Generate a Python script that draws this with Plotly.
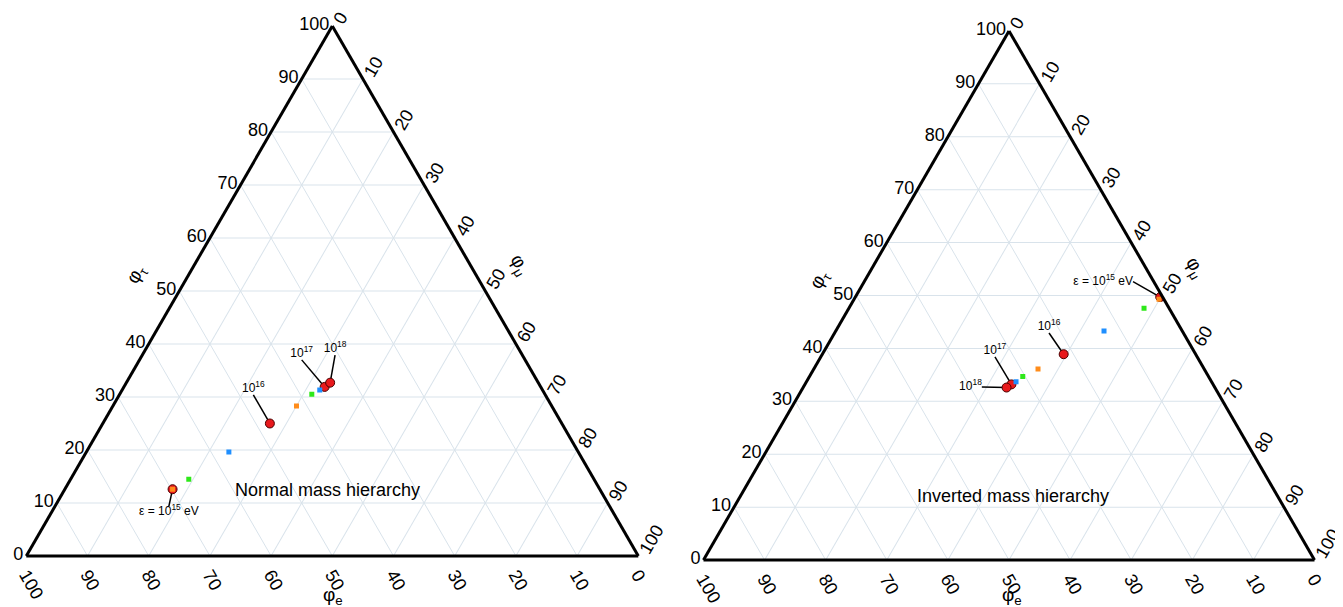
import plotly.graph_objects as go

# ternary coordinates: a = phi_tau, b = phi_e, c = phi_mu (percent)
energy_labels = ["ε = 10<sup>15</sup> eV", "10<sup>16</sup>", "10<sup>17</sup>", "10<sup>18</sup>"]

# normal mass hierarchy
nh_tau = [12.6, 25.0, 31.9, 32.7]
nh_e = [69.8, 47.7, 35.3, 34.0]
nh_mu = [17.6, 27.3, 32.8, 33.3]
nh_orange_tau, nh_orange_e, nh_orange_mu = [12.6, 28.3], [69.8, 41.7], [17.6, 30.0]
nh_green_tau, nh_green_e, nh_green_mu = [14.5, 30.5], [66.2, 38.1], [19.3, 31.4]
nh_blue_tau, nh_blue_e, nh_blue_mu = [19.6, 31.3], [57.1, 36.4], [23.3, 32.3]
# where the label leader lines end
nh_lab_tau = [9.4, 30.4, 37.0, 37.9]
nh_lab_e = [72.0, 47.7, 36.5, 30.6]
nh_lab_mu = [18.6, 21.9, 26.5, 31.5]
nh_lab_pos = ["bottom center", "top center", "top center", "top center"]

# inverted mass hierarchy
ih_tau = [49.7, 38.9, 33.2, 32.6]
ih_e = [0.4, 21.6, 33.0, 34.1]
ih_mu = [49.9, 39.5, 33.8, 33.3]
ih_orange_tau, ih_orange_e, ih_orange_mu = [49.3, 36.1], [0.8, 27.2], [49.9, 36.7]
ih_green_tau, ih_green_e, ih_green_mu = [47.6, 34.7], [4.1, 30.4], [48.3, 34.9]
ih_blue_tau, ih_blue_e, ih_blue_mu = [43.3, 33.7], [12.8, 32.0], [43.9, 34.3]
ih_lab_tau = [52.6, 42.9, 38.4, 32.7]
ih_lab_e = [3.4, 22.0, 33.1, 38.1]
ih_lab_mu = [44.0, 35.1, 28.5, 29.2]
ih_lab_pos = ["middle left", "top center", "top center", "middle left"]

FONT = "Liberation Sans, Arial, sans-serif"
GRID = "#d9e3eb"


def leader(tau, e, mu, lt, le, lm):
    a, b, c = [], [], []
    for i in range(len(tau)):
        a += [tau[i], lt[i], None]
        b += [e[i], le[i], None]
        c += [mu[i], lm[i], None]
    return a, b, c


fig = go.Figure()

panels = [
    ("ternary", nh_tau, nh_e, nh_mu, nh_lab_tau, nh_lab_e, nh_lab_mu, nh_lab_pos,
     [(nh_orange_tau, nh_orange_e, nh_orange_mu, "#ff8c1a"),
      (nh_green_tau, nh_green_e, nh_green_mu, "#2ee81a"),
      (nh_blue_tau, nh_blue_e, nh_blue_mu, "#1f8fff")]),
    ("ternary2", ih_tau, ih_e, ih_mu, ih_lab_tau, ih_lab_e, ih_lab_mu, ih_lab_pos,
     [(ih_orange_tau, ih_orange_e, ih_orange_mu, "#ff8c1a"),
      (ih_green_tau, ih_green_e, ih_green_mu, "#2ee81a"),
      (ih_blue_tau, ih_blue_e, ih_blue_mu, "#1f8fff")]),
]

for sub, tau, e, mu, lt, le, lm, lpos, squares in panels:
    la, lb, lc = leader(tau, e, mu, lt, le, lm)
    fig.add_trace(go.Scatterternary(
        a=la, b=lb, c=lc, mode="lines", subplot=sub,
        line=dict(color="black", width=1.5), hoverinfo="skip"))
    fig.add_trace(go.Scatterternary(
        a=tau, b=e, c=mu, mode="markers", subplot=sub,
        marker=dict(symbol="circle", size=9, color="#e8191c",
                    line=dict(color="#4a0000", width=1))))
    for st, se, sm, col in squares:
        fig.add_trace(go.Scatterternary(
            a=st, b=se, c=sm, mode="markers", subplot=sub,
            marker=dict(symbol="square", size=5, color=col, line=dict(width=0))))
    fig.add_trace(go.Scatterternary(
        a=lt, b=le, c=lm, mode="text", subplot=sub,
        text=energy_labels, textposition=lpos,
        textfont=dict(family=FONT, size=12, color="black"), hoverinfo="skip"))


def axis(angle):
    return dict(title=dict(text=""), min=0, tick0=0, dtick=10, ticks="",
                tickangle=angle, tickfont=dict(family=FONT, size=18, color="black"),
                showgrid=True, gridcolor=GRID, gridwidth=1,
                showline=True, linecolor="black", linewidth=3)


tern = dict(sum=100, bgcolor="white",
            aaxis=axis(0), baxis=axis(60), caxis=axis(-60))

# the page body adds an 8px margin, so domains are shifted up/left to compensate
fig.update_layout(
    width=1343, height=607,
    margin=dict(l=0, r=0, t=0, b=0),
    paper_bgcolor="white",
    showlegend=False,
    font=dict(family=FONT, color="black"),
    ternary=dict(domain=dict(x=[0.01363, 0.46932], y=[0.0938, 0.9738]), **tern),
    ternary2=dict(domain=dict(x=[0.51787, 0.97282], y=[0.0864, 0.9664]), **tern),
)

titles = [
    (0.0958, 0.560, "φ<sub>τ</sub>", -60),
    (0.3805, 0.576, "φ<sub>μ</sub>", 60),
    (0.2420, 0.031, "φ<sub>e</sub>", 0),
    (0.6046, 0.552, "φ<sub>τ</sub>", -60),
    (0.8838, 0.572, "φ<sub>μ</sub>", 60),
    (0.7475, 0.031, "φ<sub>e</sub>", 0),
]
for x, y, t, ang in titles:
    fig.add_annotation(x=x, y=y, xref="paper", yref="paper", text=t, textangle=ang,
                       xanchor="center", yanchor="middle", showarrow=False,
                       font=dict(family=FONT, size=19, color="black"))

fig.add_annotation(x=0.2382, y=0.206, xref="paper", yref="paper", text="Normal mass hierarchy",
                   xanchor="center", yanchor="middle", showarrow=False,
                   font=dict(family=FONT, size=18, color="black"))
fig.add_annotation(x=0.7483, y=0.196, xref="paper", yref="paper", text="Inverted mass hierarchy",
                   xanchor="center", yanchor="middle", showarrow=False,
                   font=dict(family=FONT, size=18, color="black"))

fig.write_html("out.html")
